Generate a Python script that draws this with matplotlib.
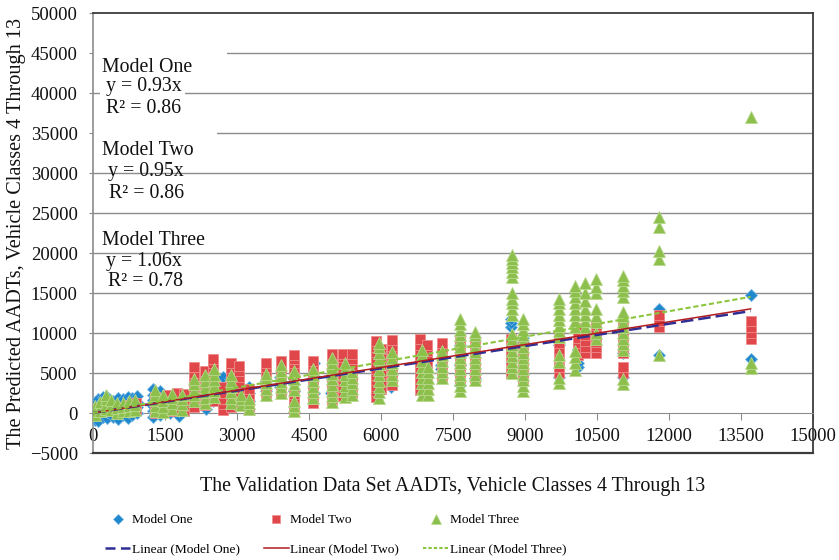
import matplotlib
matplotlib.use("Agg")
import matplotlib.pyplot as plt
from matplotlib.lines import Line2D
from matplotlib.patches import Rectangle

plt.rcParams['font.family'] = ['Liberation Serif', 'DejaVu Serif']

# ---------------- data (x site, list of predicted values) ----------------
model_one = [
    (40, [-900, -400, 200, 800, 1400]), (110, [-1000, -300, 400, 1100, 1700]),
    (200, [-500, 200, 900, 1600, 2000]), (300, [-600, 100, 800, 1500, 2000]),
    (420, [-500, 100, 800, 1500]), (520, [-700, 0, 700, 1400, 1900]),
    (620, [-300, 400, 1100, 1800]), (720, [-600, 100, 800, 1500, 2000]),
    (820, [-200, 500, 1200, 1900]), (920, [0, 700, 1400, 2100]),
    (1250, [-500, 200, 900, 1600, 2300, 3000]), (1400, [-300, 500, 1300, 2100, 2800]),
    (1600, [0, 800, 1500]), (1800, [-400, 300, 1000]),
    (2100, [1000, 2000]), (2350, [500, 1500, 2500]), (2500, [1500]),
    (2700, [1000, 2500, 4500]), (2850, [3500, 4200]), (3050, [1500, 3000]),
    (3250, [1500, 2500, 3200]), (3600, [2800, 4000]), (3900, [3300, 4500]),
    (4180, [2800, 3600, 4200]), (4600, [2500, 4500, 6300]), (4950, [2500, 4500]),
    (5300, [2500, 4000, 5500]), (5950, [2500, 4500, 6500]), (6200, [3300, 5500]),
    (6850, [5000, 6500]), (7250, [5500, 6000]), (7650, [3500, 6000, 8500]),
    (7950, [4400, 7500]), (8700, [10700, 11200, 11800]), (8950, [8900, 9400]),
    (9700, [4500, 8500]), (10100, [5700, 6300, 8000]), (10450, [9500]),
    (11050, [4500, 7500]), (11800, [7300, 13000]), (13700, [6800, 14800]),
]

model_two = [
    (40, [0, 600]), (200, [300, 1000]), (450, [200, 800]), (700, [300, 1000]),
    (900, [500, 1200]), (1300, [0, 600, 1300, 2000]),
    (1550, [200, 900, 1600, 2300]), (1750, [300, 1000, 1700, 2500]),
    (1900, [200, 900, 1600, 2400]),
    (2100, [800, 1500, 2200, 2900, 3600, 4300, 5000, 5700]),
    (2330, [1000, 1700, 2400, 3100, 3800, 4500, 5200]),
    (2500, [1500, 2200, 2900, 3600, 4300, 5000, 5700, 6300, 6800]),
    (2700, [400, 1100, 1800, 2500, 3200]),
    (2880, [800, 1500, 2200, 2900, 3600, 4300, 5000, 5600, 6200]),
    (3050, [1000, 1700, 2400, 3100, 3800, 4500, 5200, 5900]),
    (3250, [400, 1000, 1700, 2400, 3000]),
    (3600, [2300, 3000, 3700, 4400, 5100, 5700, 6200]),
    (3920, [2600, 3300, 4000, 4700, 5400, 6000, 6500]),
    (4180, [400, 1000, 1700, 2400, 4800, 5500, 6200, 6800, 7200]),
    (4580, [1300, 2000, 2700, 3400, 4100, 4800, 5500, 6100, 6500]),
    (4980, [1400, 2100, 2800, 3500, 4200, 4900, 5600, 6300, 7000, 7400]),
    (5200, [2100, 2800, 3500, 4200, 4900, 5600, 6300, 7000, 7400]),
    (5400, [2500, 3200, 3900, 4600, 5300, 6000, 6700, 7400]),
    (5900, [2000, 2700, 3400, 4100, 4800, 5500, 6200, 6900, 7600, 8300, 9000]),
    (6000, [3000, 4000, 5000, 6000, 7000, 8000]),
    (6220, [3500, 4200, 4900, 5600, 6300, 7000, 7700, 8400, 9100]),
    (6820, [2900, 3600, 4300, 5000, 5700, 6400, 7100, 7800, 8500, 9300]),
    (6950, [2900, 3600, 4300, 5000, 5700, 6400, 7100, 7800, 8500]),
    (7280, [4400, 5100, 5800, 6500, 7200, 7900, 8700]),
    (7650, [4100, 4800, 5500, 6200, 6900, 7600, 8300, 9300]),
    (7950, [4400, 5100, 5800, 6500, 7200, 7900, 8800]),
    (8700, [5000, 5700, 6400, 7100, 7800, 8500, 9300]),
    (8950, [4100, 4800, 5500, 6200, 6900, 7600, 8200]),
    (9700, [5000, 5800, 7300, 8000, 8700, 9400]),
    (10100, [7300, 8000, 8700, 9400, 10100, 10600]),
    (10250, [7500, 8300, 9000, 9800]),
    (10480, [7500, 8200, 8900, 9600, 10300, 11000]),
    (11050, [5000, 5800, 7500, 8200, 8900, 9600, 10300, 11000]),
    (11800, [10800, 11500, 12300]),
    (13700, [9300, 10000, 10800, 11500]),
]

model_three = [
    (40, [-300, 300, 900]), (150, [200, 800, 1400]), (270, [500, 1100, 1700, 2200]),
    (380, [400, 1000, 1600]), (500, [0, 600, 1200]), (620, [200, 800, 1300]),
    (760, [300, 900, 1500]), (880, [400, 1000, 1600]),
    (1300, [300, 900, 1600, 2300, 2900]), (1450, [100, 800, 1500, 2200]),
    (1650, [500, 1200, 1900, 2400]), (1850, [400, 1100, 1800, 2300]),
    (2100, [1500, 2200, 2900, 3600, 4300]),
    (2330, [1200, 1900, 2600, 3300, 4000, 4800]),
    (2520, [2000, 2700, 3400, 4100, 4800, 5500]),
    (2880, [1200, 1900, 2600, 3300, 4000, 4700]),
    (3080, [1000, 1700, 2300]), (3250, [500, 1200, 1800]),
    (3600, [2300, 3000, 3700, 4400, 4900]),
    (3920, [2500, 3200, 3900, 4600, 5300, 6000]),
    (4180, [200, 900, 1500, 2900, 3600, 4300, 5200]),
    (4580, [1900, 2600, 3300, 4000, 4700, 5500]),
    (4980, [1400, 2100, 2800, 3500, 4200, 4900, 5600, 6300, 6900]),
    (5250, [2000, 2700, 3400, 4100, 4800, 5500, 6200]),
    (5400, [2300, 3000, 3700, 4400, 5100]),
    (5950, [1900, 2600, 3300, 4000, 4700, 5400, 6100, 6800, 7500, 8200, 8800]),
    (6220, [4100, 4800, 5500, 6200, 6900, 7600]),
    (6850, [2300, 3000, 3700, 4400, 5100, 5800, 6500, 7200, 7900]),
    (6980, [2300, 3000, 3700, 4400, 5100, 5800]),
    (7280, [4400, 5100, 5800, 6500, 7200, 7800]),
    (7650, [2700, 3400, 4100, 4800, 5500, 6200, 6900, 7600, 8300, 9000, 9700,
            10400, 11100, 11800]),
    (7950, [4100, 4800, 5500, 6200, 6900, 7600, 8300, 9000, 9700, 10100]),
    (8720, [5000, 5700, 6400, 7100, 7800, 8500, 9200, 9900, 12300, 13000, 13700,
            14300, 15000, 17000, 17600, 18200, 18800, 19300, 19700]),
    (8950, [2700, 3400, 4100, 4800, 5500, 6200, 6900, 7500, 8300, 9000, 9700,
            10400, 11100, 11800]),
    (9700, [3800, 4400, 6400, 7300, 9500, 10200, 10900, 11600, 12300, 13000,
            13700, 14300]),
    (10050, [5400, 6200, 7000, 7800, 10800, 11500, 12200, 13000, 13800, 14500,
             15200, 15900]),
    (10250, [10800, 11500, 12200, 13000, 14000, 15000, 16200]),
    (10480, [9200, 10000, 11400, 12100, 13000, 15000, 15800, 16800]),
    (11050, [3600, 4300, 7900, 8600, 9300, 10000, 10700, 11400, 12100, 12600,
             14500, 15200, 15900, 16600, 17100]),
    (11800, [7300, 19300, 20200, 23300, 24500]),
    (13700, [5600, 6300, 37000]),
]

series_names = ["Model One", "Model Two", "Model Three"]
slopes = [0.93, 0.95, 1.06]
r_squared = [0.86, 0.86, 0.78]
x_ticks = [0, 1500, 3000, 4500, 6000, 7500, 9000, 10500, 12000, 13500, 15000]
y_ticks = [-5000, 0, 5000, 10000, 15000, 20000, 25000, 30000, 35000, 40000, 45000, 50000]


def flatten(groups):
    xs, ys = [], []
    for x, vals in groups:
        for v in vals:
            xs.append(x)
            ys.append(v)
    return xs, ys


# ---------------- figure ----------------
fig = plt.figure(figsize=(8.39, 5.6), dpi=100)
ax = fig.add_axes([93 / 839, 1 - 453 / 560, 720 / 839, 440 / 560])

marker_colors = ["#1f87cb", "#e0474a", "#8dbf4c"]
edge_colors = ["#6fb4e3", "#f08c8c", "#b7d98c"]
markers = ["D", "s", "^"]
msizes = [6.0, 7.6, 8.6]
line_colors = ["#2e2e96", "#b01c1f", "#8cc63f"]

groups = [model_one, model_two, model_three]
max_x = 0
for i, g in enumerate(groups):
    xs, ys = flatten(g)
    max_x = max(max_x, max(xs))
    ax.plot(xs, ys, linestyle="none", marker=markers[i], ms=msizes[i],
            color=marker_colors[i], mec=edge_colors[i], mew=0.6, zorder=3 + i)

fit_x = [0, max_x]
ax.plot(fit_x, [slopes[0] * v for v in fit_x], color=line_colors[0], lw=1.8,
        dashes=(5, 2), zorder=8)
ax.plot(fit_x, [slopes[1] * v for v in fit_x], color=line_colors[1], lw=1.1,
        zorder=9)
ax.plot(fit_x, [slopes[2] * v for v in fit_x], color=line_colors[2], lw=1.5,
        dashes=(2.5, 1.3), zorder=10)

ax.set_xlim(0, 15000)
ax.set_ylim(-5000, 50000)
ax.set_xticks(x_ticks)
ax.set_yticks(y_ticks)
ax.set_xticklabels([str(t) for t in x_ticks])
ax.set_yticklabels([str(t).replace("-", "\u2212") for t in y_ticks])

grid_c = "#8c8c8c"
for t in y_ticks[2:-1]:
    ax.axhline(t, color=grid_c, lw=1.0, zorder=1)

ax.spines["bottom"].set_position(("data", 0))
ax.spines["bottom"].set_color(grid_c)
ax.spines["left"].set_color(grid_c)
ax.spines["left"].set_linewidth(1.2)
for s in ["top", "right"]:
    ax.spines[s].set_color("#3c3c3c")
    ax.spines[s].set_linewidth(1.3)
ax.axhline(-5000, color="#3c3c3c", lw=1.6, clip_on=False, zorder=12)

ax.tick_params(axis="x", direction="out", length=5, color=grid_c, pad=6,
               labelsize=13.5, labelcolor="#111111")
ax.tick_params(axis="y", direction="out", length=3, color=grid_c, pad=8,
               labelsize=13.5, labelcolor="#111111")

# white label backgrounds covering gridlines
ax.add_patch(Rectangle((0, 43500), 2790, 3000, facecolor="white", edgecolor="none", zorder=2))
ax.add_patch(Rectangle((146, 38500), 1770, 3000, facecolor="white", edgecolor="none", zorder=2))
ax.add_patch(Rectangle((0, 33500), 2583, 3000, facecolor="white", edgecolor="none", zorder=2))

label_pos = [
    [(0.0121, 0.8666), (0.0181, 0.8220), (0.0181, 0.7720)],
    [(0.0121, 0.6773), (0.0208, 0.6302), (0.0222, 0.5802)],
    [(0.0121, 0.4720), (0.0181, 0.4243), (0.0208, 0.3788)],
]
for i in range(3):
    lines = [series_names[i], f"y = {slopes[i]:.2f}x", f"R\u00b2 = {r_squared[i]:.2f}"]
    for txt, (px, py) in zip(lines, label_pos[i]):
        ax.text(px, py, txt, transform=ax.transAxes, ha="left", va="baseline",
                fontsize=14.3, color="#111111", zorder=15)

fig.text(17 / 839, 1 - 233 / 560, "The Predicted AADTs, Vehicle Classes 4 Through 13",
         rotation=90, ha="center", va="center", fontsize=14.6, color="#111111")
fig.text(453 / 839, 1 - 486 / 560, "The Validation Data Set AADTs, Vehicle Classes 4 Through 13",
         ha="center", va="center", fontsize=14.4, color="#111111")

# legend
mk_handles = [Line2D([], [], linestyle="none", marker=markers[i], ms=msizes[i] * 0.8,
                     color=marker_colors[i], mec=edge_colors[i], mew=0.5) for i in range(3)]
ln_handles = [
    Line2D([], [], color=line_colors[0], lw=1.8, dashes=(4, 2.2)),
    Line2D([], [], color=line_colors[1], lw=1.1),
    Line2D([], [], color=line_colors[2], lw=1.5, dashes=(1.6, 1.0)),
]
handles, labels = [], []
for i in range(3):
    handles += [mk_handles[i], ln_handles[i]]
    labels += [series_names[i], f"Linear ({series_names[i]})"]
fig.legend(handles, labels, loc="upper left", bbox_to_anchor=(105 / 839, 1 - 514 / 560),
           ncol=3, frameon=False, fontsize=9.6, handlelength=1.9, handletextpad=0.1,
           columnspacing=1.8, labelspacing=1.25, borderpad=0, borderaxespad=0)

fig.savefig("out.png", dpi=100)
